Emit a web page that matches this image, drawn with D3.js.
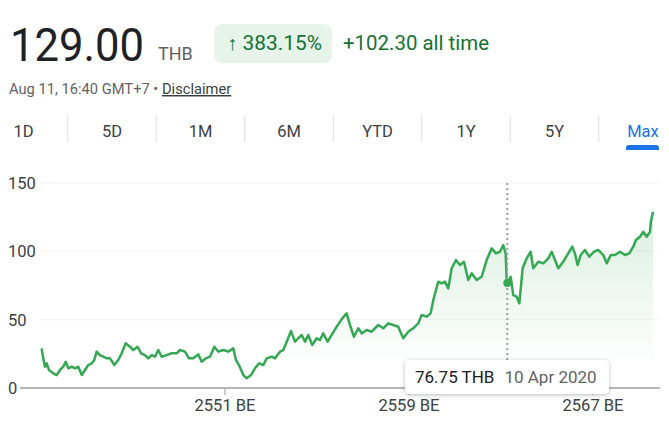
<!DOCTYPE html>
<html>
<head>
<meta charset="utf-8">
<script src="https://cdn.jsdelivr.net/npm/d3@7"></script>
<style>
  body { margin: 0; background: #fff; }
  svg { display: block; font-family: Roboto, Arial, sans-serif; }
</style>
</head>
<body>
<svg id="chart" width="669" height="441"></svg>
<script>
// price history
const dates = [
  "2000-01-11","2000-02-06","2000-03-04","2000-03-31","2000-05-07","2000-07-14","2000-09-06","2000-10-29","2000-12-20",
  "2001-01-27","2001-03-10","2001-05-03","2001-06-24","2001-08-15","2001-10-09","2001-11-30",
  "2002-01-21","2002-03-16","2002-04-26","2002-06-03","2002-07-25","2002-09-16","2002-11-09",
  "2003-01-01","2003-03-10","2003-05-12","2003-07-05","2003-09-06","2003-11-13",
  "2004-01-05","2004-03-15","2004-05-07","2004-07-09","2004-08-31","2004-10-24","2004-12-15",
  "2005-02-06","2005-04-01","2005-06-19","2005-09-06","2005-11-24",
  "2006-01-16","2006-04-05","2006-06-08","2006-08-15","2006-11-02","2006-12-27",
  "2007-02-28","2007-05-08","2007-07-15","2007-09-17","2007-12-05",
  "2008-02-22","2008-05-11","2008-06-23","2008-08-10","2008-10-18","2008-12-10",
  "2009-02-17","2009-04-21","2009-06-24","2009-09-01","2009-10-24",
  "2010-01-11","2010-03-05","2010-05-23","2010-07-15","2010-09-07","2010-11-14",
  "2011-01-16","2011-03-09","2011-05-03","2011-06-24","2011-08-15","2011-10-18","2011-12-27",
  "2012-02-17","2012-04-09","2012-06-18","2012-08-21","2012-10-23","2012-12-15",
  "2013-02-06","2013-04-16","2013-06-08","2013-08-10","2013-10-18","2013-12-11",
  "2014-02-28","2014-05-18","2014-08-31","2014-11-18",
  "2015-02-06","2015-04-26","2015-07-14","2015-10-02","2015-12-20",
  "2016-03-08","2016-05-27","2016-07-20","2016-10-08","2016-12-10",
  "2017-01-21","2017-04-10","2017-06-03","2017-07-25","2017-09-16","2017-11-09",
  "2018-01-16","2018-03-20","2018-05-23","2018-07-30","2018-09-22","2018-12-10",
  "2019-02-28","2019-05-18","2019-08-06","2019-10-13","2019-12-15",
  "2020-02-06","2020-03-15","2020-03-31","2020-04-10","2020-06-03","2020-07-14","2020-09-06","2020-10-18","2020-12-10",
  "2021-02-12","2021-04-16","2021-05-27","2021-08-15","2021-11-02",
  "2022-01-21","2022-03-16","2022-05-08","2022-06-29","2022-09-16","2022-12-04",
  "2023-02-06","2023-03-20","2023-05-02","2023-06-19","2023-08-26","2023-11-02",
  "2024-01-16","2024-03-24","2024-06-13","2024-08-06","2024-10-08","2024-12-15",
  "2025-03-05","2025-05-23","2025-07-30","2025-10-02","2025-11-13",
  "2026-01-16","2026-03-10","2026-05-03","2026-06-24","2026-07-08","2026-08-11"
];
const prices = [
  29, 21.7, 15.6, 18, 13.2, 10.7, 9.5, 13.2, 15.6,
  19.2, 14.4, 15.6, 14.4, 15.6, 9.5, 13.2,
  16.8, 18, 20.5, 26.6, 24.1, 22.9, 21.7,
  21.7, 16.8, 20.5, 25.4, 32.7, 30.2,
  27.8, 30.2, 25.4, 24.1, 21.7, 24.1, 22.9,
  27.8, 22.9, 24.1, 25.4, 25.4,
  27.8, 26.6, 21.7, 21.7, 24.6, 19.2,
  21.7, 22.9, 30.2, 26.6, 27.8,
  26.6, 29, 20.5, 16.8, 9.5, 7.1,
  9.5, 14.4, 18, 16.8, 21.7,
  22.9, 21.7, 26.6, 27.8, 33.9, 41.7,
  33.9, 36.4, 38.8, 33.9, 38.8, 31.5, 36.4,
  35.1, 40, 33.9, 38.8, 43.7, 47.3,
  51, 54.6, 46.1, 37.5, 43.7, 40,
  42.4, 41.2, 46.1, 43.7,
  47.3, 46.1, 44.8, 36.4, 41.2,
  43.7, 47.3, 53.4, 52.2, 54.6,
  64.4, 77.8, 76.6, 77.8, 72.9, 87.6,
  93.6, 90, 92.4, 79, 83.9, 79,
  81.4, 93.6, 102.2, 98.5, 99.7,
  104.6, 98.5, 79, 76.75, 81.4, 68, 66.8, 62, 87.6,
  94.9, 99.7, 87.6, 92.4, 91.2,
  94.9, 99.7, 93.6, 87.6, 92.4, 98.5,
  103.4, 98.5, 90, 97.3, 101, 96.1,
  99.7, 101, 97.3, 91.2, 97.3, 97.3,
  99.7, 97.3, 98.5, 103.4, 108.3,
  110.7, 114.3, 110.7, 114.3, 121.7, 129
];
const yTicks = [0, 50, 100, 150];
const xTickDates = ["2008-01-01", "2016-01-01", "2024-01-01"];
const xTickLabels = ["2551 BE", "2559 BE", "2567 BE"];
const tabs = ["1D", "5D", "1M", "6M", "YTD", "1Y", "5Y", "Max"];
const hoverDate = "2020-04-10";
const hoverLabel = "10 Apr 2020";
const hoverPrice = 76.75;

const parse = d3.timeParse("%Y-%m-%d");
const data = dates.map((d, i) => ({ date: parse(d), price: prices[i] }));

const svg = d3.select("#chart");

/////////////////////////////
// HEADER
/////////////////////////////
svg.append("text").attr("x", 10).attr("y", 61)
  .attr("font-size", 46).attr("fill", "#202124")
  .attr("textLength", 134).attr("lengthAdjust", "spacingAndGlyphs")
  .text("129.00");
svg.append("text").attr("x", 158).attr("y", 60)
  .attr("font-size", 18).attr("fill", "#5f6368").text("THB");

svg.append("rect").attr("x", 214).attr("y", 24).attr("width", 118).attr("height", 39)
  .attr("rx", 8).attr("fill", "#e6f4ea");
svg.append("text").attr("x", 227).attr("y", 50)
  .attr("font-size", 20).attr("fill", "#137333")
  .attr("textLength", 95).attr("lengthAdjust", "spacingAndGlyphs")
  .text("\u2191 383.15%");
svg.append("text").attr("x", 343).attr("y", 50)
  .attr("font-size", 20).attr("fill", "#137333")
  .attr("textLength", 146).attr("lengthAdjust", "spacingAndGlyphs")
  .text("+102.30 all time");

const sub = svg.append("text").attr("x", 9).attr("y", 94)
  .attr("font-size", 14.7).attr("fill", "#5f6368");
sub.append("tspan").text("Aug 11, 16:40 GMT+7 \u2022 ");
sub.append("tspan").attr("fill", "#3c4043").attr("text-decoration", "underline").text("Disclaimer");

// range tabs
const tabX = d3.scaleBand().domain(tabs).range([-20.75, 687.25]);
const tabG = svg.append("g");
tabG.selectAll("line.sep")
  .data(tabs.slice(1))
  .enter().append("line")
    .attr("class", "sep")
    .attr("x1", d => tabX(d)).attr("x2", d => tabX(d))
    .attr("y1", 115).attr("y2", 142)
    .attr("stroke", "#dadce0");
tabG.selectAll("text")
  .data(tabs)
  .enter().append("text")
    .attr("x", d => tabX(d) + tabX.bandwidth() / 2)
    .attr("y", 137)
    .attr("text-anchor", "middle")
    .attr("font-size", 16.5)
    .attr("fill", d => d == "Max" ? "#1a73e8" : "#3c4043")
    .text(d => d);
tabG.append("path")
  .attr("d", "M626,150 L626,148 Q626,145 629,145 L656,145 Q659,145 659,148 L659,150 Z")
  .attr("fill", "#1a73e8");

/////////////////////////////
// CHART
/////////////////////////////
const x = d3.scaleTime()
  .domain([parse("2000-01-01"), parse("2026-08-11")])
  .range([41, 653]);
const y = d3.scaleLinear().domain([0, 150]).range([388, 183]);

svg.append("g")
  .selectAll("line")
  .data(yTicks.filter(d => d > 0))
  .enter().append("line")
    .attr("x1", 40).attr("x2", 660)
    .attr("y1", d => y(d)).attr("y2", d => y(d))
    .attr("stroke", "#f1f3f4");

svg.append("g")
  .selectAll("text")
  .data(yTicks)
  .enter().append("text")
    .attr("x", 8).attr("y", d => y(d) + 6)
    .attr("font-size", 16.5).attr("fill", "#3c4043")
    .text(d => d);

const defs = svg.append("defs");
const grad = defs.append("linearGradient")
  .attr("id", "fillGrad")
  .attr("gradientUnits", "userSpaceOnUse")
  .attr("x1", 0).attr("x2", 0).attr("y1", y(130)).attr("y2", y(15));
grad.append("stop").attr("offset", 0).attr("stop-color", "#34a853").attr("stop-opacity", 0.18);
grad.append("stop").attr("offset", 1).attr("stop-color", "#34a853").attr("stop-opacity", 0);

const area = d3.area().x(d => x(d.date)).y0(y(0)).y1(d => y(d.price));
const line = d3.line().x(d => x(d.date)).y(d => y(d.price));

svg.append("path").datum(data).attr("d", area).attr("fill", "url(#fillGrad)");
svg.append("path").datum(data).attr("d", line)
  .attr("fill", "none").attr("stroke", "#34a853").attr("stroke-width", 2.5)
  .attr("stroke-linejoin", "round");

// x axis
svg.append("line").attr("x1", 20).attr("x2", 660).attr("y1", y(0)).attr("y2", y(0))
  .attr("stroke", "#9aa0a6").attr("stroke-width", 1.5);
const xt = svg.append("g").selectAll("g")
  .data(xTickDates)
  .enter().append("g")
    .attr("transform", d => "translate(" + x(parse(d)) + ",0)");
xt.append("line").attr("y1", y(0)).attr("y2", y(0) + 7).attr("stroke", "#9aa0a6");
xt.append("text").attr("y", 411).attr("text-anchor", "middle")
  .attr("font-size", 16.5).attr("fill", "#3c4043")
  .text((d, i) => xTickLabels[i]);

// hover crosshair + tooltip
const hx = x(parse(hoverDate));
svg.append("line").attr("x1", hx).attr("x2", hx).attr("y1", y(150)).attr("y2", y(0))
  .attr("stroke", "#9aa0a6").attr("stroke-width", 2).attr("stroke-dasharray", "2,3");
svg.append("circle").attr("cx", hx).attr("cy", y(hoverPrice)).attr("r", 4)
  .attr("fill", "#34a853");

const tip = svg.append("g");
tip.append("rect").attr("x", 405).attr("y", 360).attr("width", 204).attr("height", 34)
  .attr("rx", 4).attr("fill", "#fff")
  .style("filter", "drop-shadow(0 1px 2px rgba(60,64,67,0.35))");
const tt = tip.append("text").attr("x", 415).attr("y", 383).attr("font-size", 17);
tt.append("tspan").attr("fill", "#202124").text(hoverPrice.toFixed(2) + " THB");
tt.append("tspan").attr("fill", "#5f6368").attr("dx", 10).text(hoverLabel);
</script>
</body>
</html>
